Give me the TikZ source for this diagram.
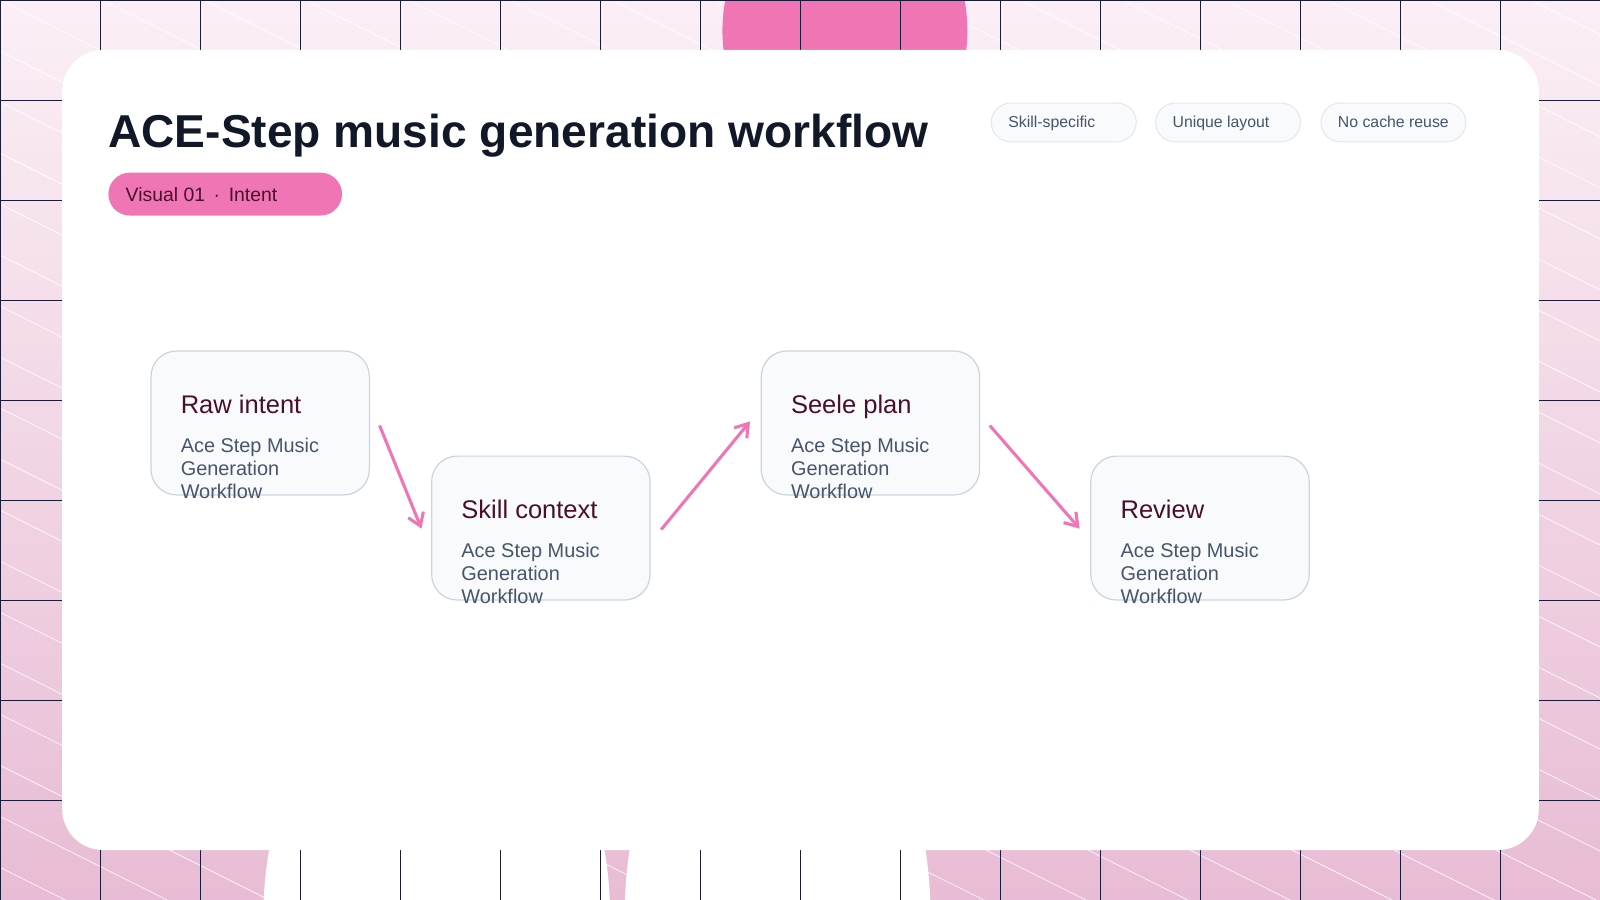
\documentclass[tikz,border=0pt]{standalone}
\usepackage{fontspec}
\setmainfont{Liberation Sans}
\usetikzlibrary{arrows.meta}
\definecolor{pinkA}{HTML}{F075B5}
\definecolor{bgTop}{HTML}{FBEFF5}
\definecolor{bgBot}{HTML}{E8BCD4}
\definecolor{gridC}{HTML}{1A1A3A}
\definecolor{nodeF}{HTML}{F8FAFC}
\definecolor{nodeB}{HTML}{CBD5E1}
\definecolor{tagB}{HTML}{E2E8F0}
\definecolor{maroon}{HTML}{4A0F2A}
\definecolor{slateT}{HTML}{475569}
\definecolor{titleC}{HTML}{111827}
\tikzset{
  card/.style={draw=nodeB, line width=1.2pt, fill=nodeF, rounded corners=25pt},
  tag/.style={draw=tagB, line width=1pt, fill=nodeF, rounded corners=19pt, minimum width=142pt, minimum height=38pt, anchor=west},
  tagtxt/.style={anchor=base west, font=\fontsize{15.5}{18}\selectfont, text=slateT},
  flow/.style={draw=pinkA, line width=3pt, -{Straight Barb[length=12pt,width=16pt,line width=3pt]}},
  ntitle/.style={anchor=base west, text=maroon, font=\fontsize{25}{28}\selectfont},
  nsub/.style={anchor=north west, text=slateT, align=left, font=\fontsize{19.5}{22.5}\selectfont},
}
\begin{document}
\begin{tikzpicture}[x=1pt,y=-1pt]
\useasboundingbox (0,0) rectangle (1568,882);
\shade[top color=bgTop, bottom color=bgBot] (0,0) rectangle (1568,882);
\begin{scope}
\clip (0,0) rectangle (1568,882);
\foreach \k in {-1800,-1700,...,1600}
  \draw[white, line width=0.8pt, opacity=0.8] (\k,0) -- ++(1800,900);
\end{scope}
\fill[pinkA] (828,30) ellipse (120 and 140);
\fill[white] (428,900) ellipse (170 and 260);
\fill[white] (762,900) ellipse (150 and 260);
\foreach \x in {0,98,...,1568} \draw[gridC, line width=0.8pt] (\x,0) -- (\x,882);
\foreach \y in {0,98,...,882} \draw[gridC, line width=0.8pt] (0,\y) -- (1568,\y);
\fill[white, rounded corners=40pt] (61,49) rectangle (1508,833);
\node[anchor=base west, text=titleC, font=\fontsize{45.2}{50}\selectfont\bfseries, inner sep=0pt] (title) at (106,145) {ACE-Step music generation workflow};
\node[fill=pinkA, rounded corners=21pt, minimum width=229pt, minimum height=42pt, anchor=north west, inner sep=0pt] (badge) at (106,169) {};
\node[anchor=base west, text=maroon, font=\fontsize{19}{21}\selectfont, inner sep=0pt] (badgetxt) at (123,197) {Visual 01 \,·\, Intent};
\foreach \n/\x/\t in {t1/971/Skill-specific, t2/1132/Unique layout, t3/1294/No cache reuse}{
  \node[tag] (\n) at (\x,120) {};
  \node[tagtxt, inner sep=0pt] (\n x) at (\x+17,125) {\t};
}
\foreach \n/\x/\y/\t in {a/148/344/Raw intent, b/423/447/Skill context, c/746/344/Seele plan, d/1069/447/Review}{
  \draw[card] (\x,\y) rectangle ++(214,141);
  \coordinate (\n) at (\x,\y);
  \node[ntitle, inner sep=0pt] (\n t) at (\x+29,\y+61) {\t};
  \node[nsub, inner sep=0pt] (\n s) at (\x+29,\y+85) {Ace Step Music\\Generation\\Workflow};
}
\coordinate (a1) at (372,417); \coordinate (b1) at (413,518);
\coordinate (b2) at (648,519); \coordinate (c1) at (735,413);
\coordinate (c2) at (970,417); \coordinate (d1) at (1058,518);
\draw[flow] (a1) -- (b1);
\draw[flow] (b2) -- (c1);
\draw[flow] (c2) -- (d1);
\end{tikzpicture}
\end{document}
